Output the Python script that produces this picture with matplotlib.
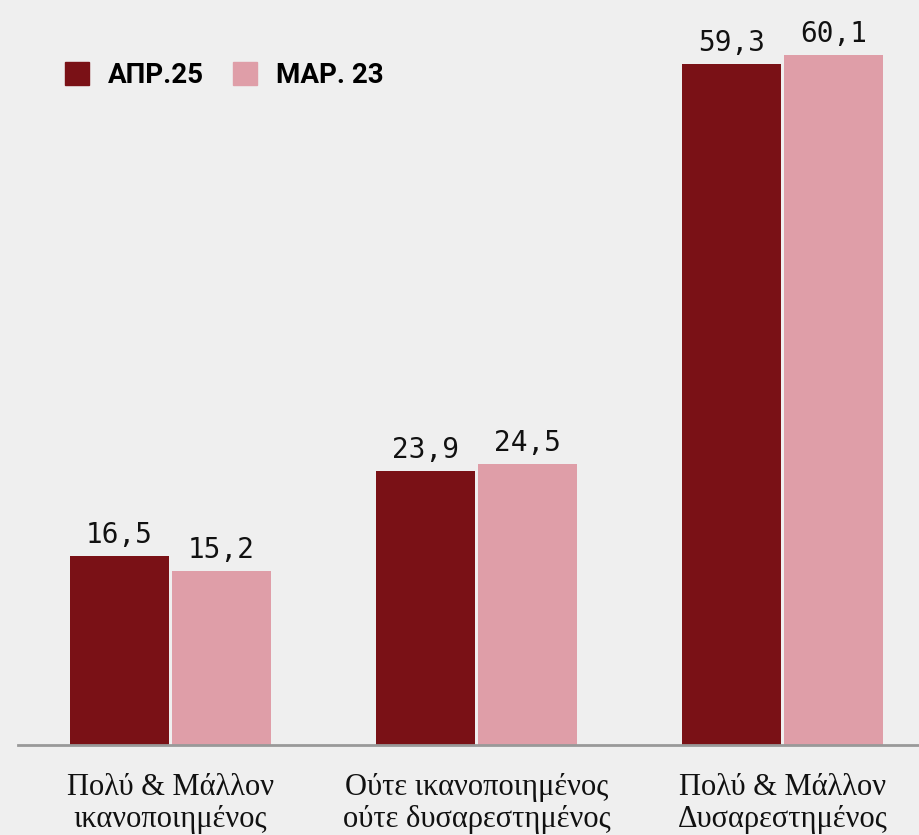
import matplotlib.pyplot as plt
from matplotlib.patches import Patch
import numpy as np

categories = ['Πολύ & Μάλλον\nικανοποιημένος',
              'Ούτε ικανοποιημένος\nούτε δυσαρεστημένος',
              'Πολύ & Μάλλον\nΔυσαρεστημένος']
apr25 = [16.5, 23.9, 59.3]
mar23 = [15.2, 24.5, 60.1]
series_names = ['ΑΠΡ.25', 'ΜΑΡ. 23']

dark = '#7a1116'
pink = '#df9ea8'
bg = '#efefef'

fig = plt.figure(figsize=(9.2, 8.35), dpi=100, facecolor=bg)
ax = fig.add_axes([18/920, 90/835, 1 - 18/920, 745/835])
ax.set_facecolor(bg)

x = np.arange(len(categories))
w = 0.324
off = 0.167
b1 = ax.bar(x - off, apr25, w, color=dark)
b2 = ax.bar(x + off, mar23, w, color=pink)

def fmt(v):
    return f'{v:.1f}'.replace('.', ',')

for bars, vals in [(b1, apr25), (b2, mar23)]:
    for r, v in zip(bars, vals):
        ax.annotate(fmt(v), (r.get_x() + r.get_width()/2, v),
                    xytext=(0, 5), textcoords='offset points',
                    ha='center', va='bottom', fontsize=20,
                    family='DejaVu Sans Mono', color='#111111')

ax.set_xlim(-0.498, 2.449)
ax.set_ylim(0, 64.9)
ax.set_yticks([])
ax.set_xticks(x)
ax.set_xticklabels(categories, fontsize=22, family='Liberation Serif',
                   color='#111111', linespacing=1.15)
ax.tick_params(axis='x', length=0, pad=20)
for s in ['top', 'left', 'right']:
    ax.spines[s].set_visible(False)
ax.spines['bottom'].set_color('#999999')
ax.spines['bottom'].set_linewidth(2)

handles = [Patch(color=dark), Patch(color=pink)]
fig.legend(handles, series_names, loc='upper left',
           bbox_to_anchor=(65/920, 1 - 62/835), ncol=2, frameon=False,
           prop={'family': 'Roboto', 'weight': 'bold', 'size': 20},
           handlelength=0.86, handleheight=0.86, handletextpad=0.68,
           columnspacing=1.05, borderpad=0, borderaxespad=0)

fig.savefig('out.png', dpi=100, facecolor=bg)
